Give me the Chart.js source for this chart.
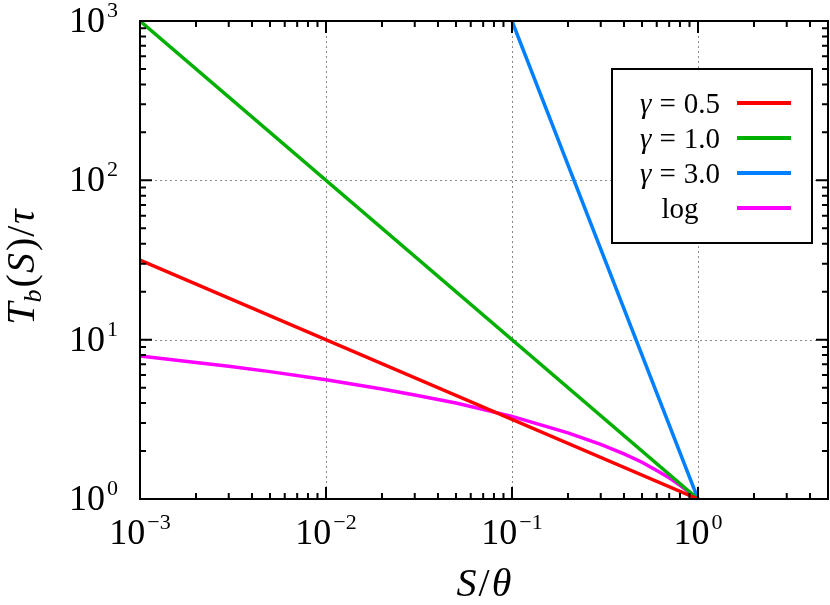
<!DOCTYPE html>
<html><head><meta charset="utf-8">
<script src="https://cdn.jsdelivr.net/npm/chart.js@4"></script>
<style>html,body{margin:0;padding:0;background:#fff}#wrap{width:830px;height:605px}</style>
</head><body><div id="wrap"><canvas id="c" width="830" height="605"></canvas></div>
<script>
// ---- data ----
const S_powerLines = [0.001, 1];
const T_gamma05 = [31.6, 1];
const T_gamma10 = [1000, 1];
const S_gamma30 = [0.1, 1];
const T_gamma30 = [1000, 1];
const S_log = [0.001, 0.002, 0.003, 0.005, 0.01, 0.02, 0.03, 0.05, 0.1, 0.2, 0.3, 0.4, 0.5, 0.6, 0.7, 0.8, 0.9, 1];
const T_log = [7.9, 7.2, 6.8, 6.3, 5.6, 4.9, 4.5, 4.0, 3.3, 2.6, 2.2, 1.92, 1.7, 1.51, 1.36, 1.22, 1.1, 1.0];
const seriesLabels = ['γ = 0.5', 'γ = 1.0', 'γ = 3.0', 'log'];
const seriesColors = ['#ff0000', '#00b000', '#0080ff', '#ff00ff'];
const xTickValues = [0.001, 0.01, 0.1, 1];
const xTickExps = ['−3', '−2', '−1', '0'];
const yTickValues = [1, 10, 100, 1000];
const yTickExps = ['0', '1', '2', '3'];
const X_MIN = 0.001, X_MAX = 5, Y_MIN = 1, Y_MAX = 1000;

const zip = (xs, ys) => xs.map((x, i) => ({x, y: ys[i]}));
const SERIF = "'Liberation Serif', 'DejaVu Serif', serif";

function drawRich(ctx, pieces, x, y, align) {
  let w = 0;
  pieces.forEach(p => { ctx.font = p.font; p.w = ctx.measureText(p.t).width; w += p.w + (p.gap || 0); });
  let cx = align === 'center' ? x - w / 2 : (align === 'right' ? x - w : x);
  ctx.textAlign = 'left';
  ctx.textBaseline = 'alphabetic';
  pieces.forEach(p => { ctx.font = p.font; ctx.fillText(p.t, cx, y + (p.dy || 0)); cx += p.w + (p.gap || 0); });
  return w;
}

const framePlugin = {
  id: 'frame',
  beforeDatasetsDraw(chart) {
    const {ctx, chartArea: a, scales: {x, y}} = chart;
    ctx.save();
    ctx.strokeStyle = '#888';
    ctx.lineWidth = 1;
    ctx.setLineDash([2, 3]);
    xTickValues.forEach(v => {
      const px = Math.round(x.getPixelForValue(v)) + 0.5;
      if (px > a.left + 2 && px < a.right - 2) { ctx.beginPath(); ctx.moveTo(px, a.top); ctx.lineTo(px, a.bottom); ctx.stroke(); }
    });
    yTickValues.forEach(v => {
      const py = Math.round(y.getPixelForValue(v)) + 0.5;
      if (py > a.top + 2 && py < a.bottom - 2) { ctx.beginPath(); ctx.moveTo(a.left, py); ctx.lineTo(a.right, py); ctx.stroke(); }
    });
    ctx.restore();
  },
  afterDatasetsDraw(chart) {
    const {ctx, chartArea: a, scales: {x, y}} = chart;
    ctx.save();
    ctx.strokeStyle = '#000';
    ctx.fillStyle = '#000';
    ctx.lineWidth = 2;
    ctx.setLineDash([]);
    // ticks
    const MAJ = 12, MIN = 6;
    const xt = [];
    for (let d = X_MIN; d < X_MAX * 1.0001; d *= 10) {
      for (let m = 1; m <= 9; m++) { const v = m * d; if (v <= X_MAX * 1.0001) xt.push({v, major: m === 1}); }
    }
    xt.forEach(t => {
      const px = x.getPixelForValue(t.v);
      const L = t.major ? MAJ : MIN;
      ctx.beginPath(); ctx.moveTo(px, a.bottom); ctx.lineTo(px, a.bottom - L);
      ctx.moveTo(px, a.top); ctx.lineTo(px, a.top + L); ctx.stroke();
    });
    const yt = [];
    for (let d = Y_MIN; d < Y_MAX * 1.0001; d *= 10) {
      for (let m = 1; m <= 9; m++) { const v = m * d; if (v <= Y_MAX * 1.0001) yt.push({v, major: m === 1}); }
    }
    yt.forEach(t => {
      const py = y.getPixelForValue(t.v);
      const L = t.major ? MAJ : MIN;
      ctx.beginPath(); ctx.moveTo(a.left, py); ctx.lineTo(a.left + L, py);
      ctx.moveTo(a.right, py); ctx.lineTo(a.right - L, py); ctx.stroke();
    });
    // border
    ctx.strokeRect(a.left, a.top, a.right - a.left, a.bottom - a.top);
    // tick labels
    const base = '36px ' + SERIF, sup = '22px ' + SERIF;
    xTickValues.forEach((v, i) => {
      const px = x.getPixelForValue(v);
      drawRich(ctx, [{t: '10', font: base, gap: 2}, {t: xTickExps[i], font: sup, dy: -15}], px, a.bottom + 45, 'center');
    });
    yTickValues.forEach((v, i) => {
      const py = y.getPixelForValue(v);
      drawRich(ctx, [{t: '10', font: base, gap: 2}, {t: yTickExps[i], font: sup, dy: -15}], a.left - 22, py + 11, 'right');
    });
    // axis titles
    const it = 'italic 40px ' + SERIF, up = '40px ' + SERIF;
    drawRich(ctx, [{t: 'S', font: it, gap: 2}, {t: '/', font: up, gap: 2}, {t: 'θ', font: it}], (a.left + a.right) / 2, 596, 'center');
    ctx.save();
    ctx.translate(34, 267);
    ctx.rotate(-Math.PI / 2);
    drawRich(ctx, [
      {t: 'T', font: it, gap: 0},
      {t: 'b', font: 'italic 26px ' + SERIF, dy: 7, gap: 2},
      {t: '(', font: up, gap: 1},
      {t: 'S', font: it, gap: 2},
      {t: ')', font: up, gap: 1},
      {t: '/', font: up, gap: 2},
      {t: 'τ', font: it}
    ], 0, 0, 'center');
    ctx.restore();
    // legend
    const lx = 612, ly = 69, lw = 200, lh = 174;
    ctx.fillStyle = '#fff';
    ctx.fillRect(lx, ly, lw, lh);
    ctx.lineWidth = 2;
    ctx.strokeStyle = '#000';
    ctx.strokeRect(lx, ly, lw, lh);
    const rows = [103, 138, 173, 208];
    ctx.fillStyle = '#000';
    seriesLabels.forEach((lab, i) => {
      const f = '29px ' + SERIF;
      let pieces;
      if (lab.startsWith('γ')) {
        const parts = lab.split('=');
        pieces = [{t: 'γ', font: 'italic 29px ' + SERIF, gap: 8}, {t: '=', font: f, gap: 8}, {t: parts[1].trim(), font: f}];
      } else pieces = [{t: lab, font: f}];
      drawRich(ctx, pieces, 680, rows[i] + 10, 'center');
      ctx.strokeStyle = seriesColors[i];
      ctx.lineWidth = 4;
      ctx.beginPath(); ctx.moveTo(737, rows[i]); ctx.lineTo(791, rows[i]); ctx.stroke();
    });
    ctx.restore();
  }
};

new Chart(document.getElementById('c'), {
  type: 'line',
  data: {
    datasets: [
      {label: seriesLabels[0], data: zip(S_powerLines, T_gamma05), borderColor: seriesColors[0]},
      {label: seriesLabels[1], data: zip(S_powerLines, T_gamma10), borderColor: seriesColors[1]},
      {label: seriesLabels[2], data: zip(S_gamma30, T_gamma30), borderColor: seriesColors[2]},
      {label: seriesLabels[3], data: zip(S_log, T_log), borderColor: seriesColors[3]}
    ]
  },
  options: {
    responsive: false,
    animation: false,
    devicePixelRatio: 1,
    layout: {padding: {left: 140, top: 21, right: 2, bottom: 106}},
    elements: {point: {radius: 0}, line: {borderWidth: 3.5, tension: 0, fill: false}},
    scales: {
      x: {type: 'logarithmic', min: X_MIN, max: X_MAX, display: false},
      y: {type: 'logarithmic', min: Y_MIN, max: Y_MAX, display: false}
    },
    plugins: {legend: {display: false}, tooltip: {enabled: false}}
  },
  plugins: [framePlugin]
});
</script>
</body></html>
